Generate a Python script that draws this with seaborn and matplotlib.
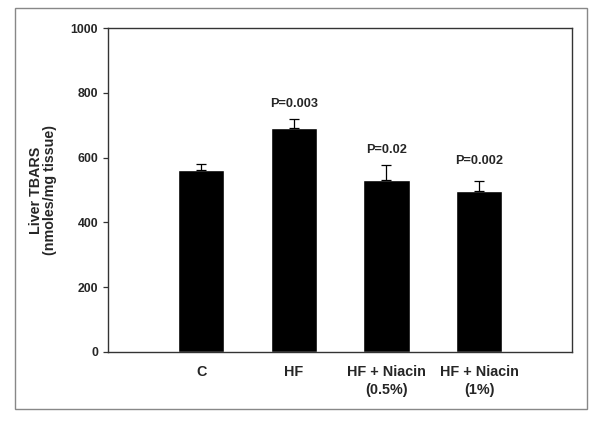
import seaborn as sns
import matplotlib.pyplot as plt
import matplotlib.patches as mpatches
import pandas as pd

# data
groups = ["C", "HF", "HF + Niacin\n(0.5%)", "HF + Niacin\n(1%)"]
tbars = [562, 692, 530, 498]
sem = [19, 28, 46, 29]
p_labels = ["", "P=0.003", "P=0.02", "P=0.002"]
p_label_y = [None, 757, 614, 579]

df = pd.DataFrame({"group": groups, "tbars": tbars})

sns.set_style("white")
plt.rcParams["font.family"] = ["Liberation Sans", "DejaVu Sans"]
plt.rcParams["font.weight"] = "bold"

fig = plt.figure(figsize=(6, 4.21), dpi=100)
ax = fig.add_axes([0.1808, 0.1646, 0.772, 0.7682])

sns.barplot(data=df, x="group", y="tbars", order=groups, color="black",
            width=0.5, saturation=1, errorbar=None, ax=ax)

# one-sided (upper) error bars
pos = list(range(len(groups)))
ax.errorbar(pos, tbars, yerr=[[0] * len(sem), sem], fmt="none",
            ecolor="black", elinewidth=0.9, capsize=3.6, capthick=0.9, zorder=1)

for x, lab, y in zip(pos, p_labels, p_label_y):
    if lab:
        ax.text(x, y, lab, ha="center", va="baseline", fontsize=9.2,
                fontweight="bold")

ax.set_xlim(-1, 4)
ax.set_ylim(0, 1000)
ax.set_yticks([0, 200, 400, 600, 800, 1000])
ax.set_xlabel("")
ax.set_ylabel("Liver TBARS\n(nmoles/mg tissue)", fontsize=10.3,
              fontweight="bold", linespacing=1.0)
ax.yaxis.set_label_coords(-0.112, 0.5)

ax.tick_params(axis="y", which="major", direction="out", length=3.5,
               width=0.9, pad=4.0, labelsize=8.8, left=True, color="#333333")
ax.tick_params(axis="x", length=0, pad=9.5, labelsize=10.4)
for t in ax.get_xticklabels():
    t.set_linespacing(1.35)
    t.set_fontweight("bold")
for t in ax.get_yticklabels():
    t.set_fontweight("bold")

for s in ax.spines.values():
    s.set_visible(True)
    s.set_color("#333333")
    s.set_linewidth(1.0)

# thin grey frame around the whole panel
fig.patches.append(mpatches.Rectangle(
    (15 / 600, 1 - 409 / 421), 572 / 600, 401.5 / 421,
    transform=fig.transFigure, fill=False, edgecolor="#888888",
    linewidth=1.0))

fig.savefig("out.png", dpi=100)
